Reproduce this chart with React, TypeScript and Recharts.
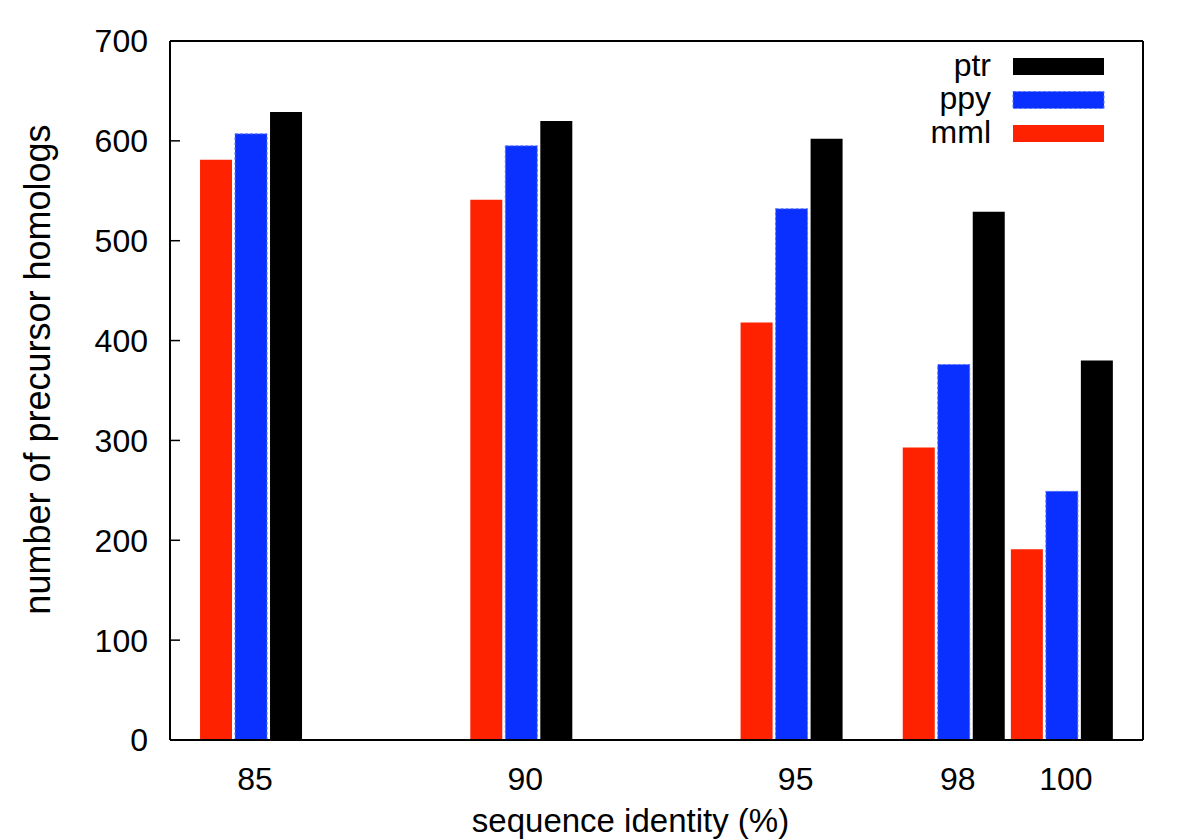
import React from "react";
import { BarChart, Bar, XAxis, YAxis, Legend } from "recharts";

const identities = [85, 90, 95, 98, 100];
const mmlValues = [581, 541, 418, 293, 191];
const ppyValues = [607, 595, 532, 376, 249];
const ptrValues = [629, 620, 602, 529, 380];
const yTicks = [0, 100, 200, 300, 400, 500, 600, 700];

const series = [
  { key: "mml", name: "mml", color: "#ff2200" },
  { key: "ppy", name: "ppy", color: "#0a30ff" },
  { key: "ptr", name: "ptr", color: "#000000" },
];

const data = identities.map((x, i) => ({
  x,
  mml: mmlValues[i],
  ppy: ppyValues[i],
  ptr: ptrValues[i],
}));

const FONT = "'Liberation Sans', Arial, Helvetica, sans-serif";

const LegendContent = () => {
  const items = [...series].reverse();
  return (
    <svg width={1200} height={160} style={{ display: "block" }}>
      {items.map((s, i) => {
        const cy = 66.5 + i * 33.5;
        return (
          <g key={s.key}>
            <text
              x={991}
              y={cy + 9}
              textAnchor="end"
              fontSize={32}
              fontFamily={FONT}
              fill="#000"
            >
              {s.name}
            </text>
            <rect
              x={1013}
              y={cy - 8.5}
              width={91}
              height={17}
              fill={s.color}
              stroke={s.key === "ppy" ? "#5575ff" : "none"}
              strokeDasharray={s.key === "ppy" ? "3 2" : undefined}
            />
          </g>
        );
      })}
    </svg>
  );
};

export default function App() {
  return (
    <div style={{ position: "absolute", left: 0, top: 0, width: 1200, height: 840, background: "#fff" }}>
      <BarChart
        width={1200}
        height={840}
        data={data}
        margin={{ top: 11, right: 27, left: 0, bottom: 0 }}
        barSize={32}
        barGap={3}
      >
        <XAxis
          dataKey="x"
          type="number"
          domain={[83.5, 101.5]}
          allowDataOverflow
          ticks={identities}
          interval={0}
          height={100}
          axisLine={{ stroke: "#000", strokeWidth: 2 }}
          tickLine={false}
          tickSize={-10}
          tickMargin={37}
          tick={{ fontSize: 32, fontFamily: FONT, fill: "#000", dx: 4 }}
          label={{
            content: (props: any) => {
              const vb = props.viewBox || { x: 170, y: 740, width: 973, height: 100 };
              return (
                <text
                  x={vb.x + vb.width / 2 - 26}
                  y={vb.y + 92}
                  textAnchor="middle"
                  fontSize={33}
                  fontFamily={FONT}
                  fill="#000"
                >
                  sequence identity (%)
                </text>
              );
            },
          }}
        />
        <XAxis
          xAxisId="top"
          orientation="top"
          dataKey="x"
          type="number"
          domain={[83.5, 101.5]}
          allowDataOverflow
          ticks={identities}
          interval={0}
          height={30}
          axisLine={{ stroke: "#000", strokeWidth: 2 }}
          tickLine={{ stroke: "#000", strokeWidth: 1.5 }}
          tickSize={-10}
          tick={false}
        />
        <YAxis
          type="number"
          domain={[0, 700]}
          allowDataOverflow
          ticks={yTicks}
          interval={0}
          width={170}
          axisLine={{ stroke: "#000", strokeWidth: 2 }}
          tickLine={{ stroke: "#000", strokeWidth: 1.5 }}
          tickSize={-10}
          tickMargin={32}
          tick={{ fontSize: 32, fontFamily: FONT, fill: "#000" }}
          label={{
            content: (props: any) => {
              const vb = props.viewBox || { x: 0, y: 41, width: 170, height: 699 };
              const cx = vb.x + 37;
              const cy = vb.y + vb.height / 2 - 21;
              return (
                <text
                  x={cx}
                  y={cy}
                  transform={`rotate(-90 ${cx} ${cy})`}
                  textAnchor="middle"
                  dominantBaseline="central"
                  fontSize={36}
                  fontFamily={FONT}
                  fill="#000"
                >
                  number of precursor homologs
                </text>
              );
            },
          }}
        />
        <YAxis
          yAxisId="right"
          orientation="right"
          type="number"
          domain={[0, 700]}
          allowDataOverflow
          ticks={yTicks}
          interval={0}
          width={30}
          axisLine={{ stroke: "#000", strokeWidth: 2 }}
          tickLine={{ stroke: "#000", strokeWidth: 1.5 }}
          tickSize={-10}
          tick={false}
        />
        <Legend
          layout="horizontal"
          verticalAlign="middle"
          align="center"
          wrapperStyle={{ position: "absolute", left: 0, top: 0, width: 1200, height: 160 }}
          content={<LegendContent />}
        />
        {series.map((s) => (
          <Bar
            key={s.key}
            dataKey={s.key}
            name={s.name}
            fill={s.color}
            stroke={s.key === "ppy" ? "#5575ff" : "none"}
            strokeWidth={s.key === "ppy" ? 1 : 0}
            strokeDasharray={s.key === "ppy" ? "3 2" : undefined}
            isAnimationActive={false}
          />
        ))}
      </BarChart>
    </div>
  );
}
